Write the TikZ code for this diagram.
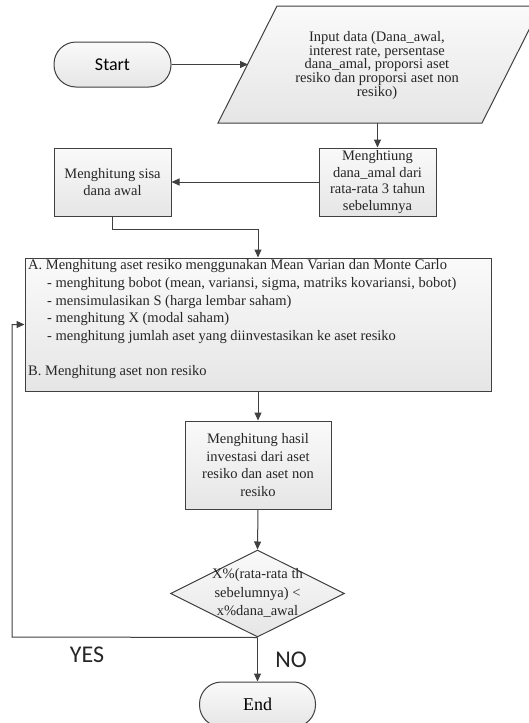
\documentclass[tikz,border=0pt]{standalone}
\usepackage{fontspec}
\setmainfont{Liberation Serif}
\newfontfamily\calib{Carlito}
\usetikzlibrary{arrows.meta,shapes.geometric}
\definecolor{ln}{HTML}{404040}
\begin{document}
\begin{tikzpicture}[x=1pt,y=-1pt,
  boxfill/.style={draw=ln, line width=1pt, top color=gray!4, bottom color=gray!20},
  procbox/.style={boxfill, rectangle, inner sep=0pt, align=center, font=\fontsize{14.5}{16.7}\selectfont},
  term/.style={boxfill, rectangle, rounded corners=22pt, inner sep=0pt, minimum width=117, minimum height=45},
  conn/.style={draw=ln, line width=1pt},
  arr/.style={conn, -{Triangle[length=8pt,width=7pt]}},
  lbl/.style={font=\calib\fontsize{24}{28}\selectfont, text=black!85, inner sep=0pt}
]
\useasboundingbox (0,0) rectangle (528,723);
\fill[white] (0,0) rectangle (528,723);

% Start
\node[term, font=\calib\fontsize{18}{20}\selectfont] (start) at (112.5,64.5) {Start};

% Input parallelogram
\path[boxfill] (218,123) -- (277,6) -- (541,6) -- (482,123) -- cycle;
\node[align=center, inner sep=0pt, font=\fontsize{14.5}{13.8}\selectfont, text=black!85] (inp) at (377,65.5)
  {Input data (Dana\_awal,\\interest rate, persentase\\dana\_amal, proporsi aset\\resiko dan proporsi aset non\\resiko)};
\coordinate (inpL) at (248,64.5);
\coordinate (inpB) at (377.5,123);

% Menghtiung box
\node[procbox, minimum width=117, minimum height=68, text=black!85] (mt) at (377.5,182)
  {Menghtiung\\dana\_amal dari\\rata-rata 3 tahun\\sebelumnya};

% Sisa box
\node[procbox, minimum width=117, minimum height=68, text=black!85] (sisa) at (112.5,182)
  {Menghitung sisa\\dana awal};

% Big box
\node[boxfill, rectangle, inner sep=0pt, minimum width=466, minimum height=133] (big) at (258,324.5) {};
\node[anchor=north west, align=left, inner sep=0pt, font=\fontsize{14.5}{17.7}\selectfont, text=black!85] (bigtxt) at (28,259.5)
  {A. Menghitung aset resiko menggunakan Mean Varian dan Monte Carlo\\
   \hspace*{19pt}- menghitung bobot (mean, variansi, sigma, matriks kovariansi, bobot)\\
   \hspace*{19pt}- mensimulasikan S (harga lembar saham)\\
   \hspace*{19pt}- menghitung X (modal saham)\\
   \hspace*{19pt}- menghitung jumlah aset yang diinvestasikan ke aset resiko\\[17.7pt]
   B. Menghitung aset non resiko};

% Result box
\node[procbox, minimum width=146, minimum height=88, text=black!85, font=\fontsize{14.5}{17.7}\selectfont] (res) at (258,465)
  {Menghitung hasil\\investasi dari aset\\resiko dan aset non\\resiko};

% Decision diamond
\node[boxfill, diamond, inner sep=0pt, minimum width=174, minimum height=87] (dia) at (257.5,593.5) {};
\node[align=center, inner sep=0pt, font=\fontsize{14.5}{18.3}\selectfont, text=black!85] (diatxt) at (257.5,593)
  {X\%(rata-rata th\\sebelumnya) <\\x\%dana\_awal};

% End
\node[term, minimum width=116, font=\fontsize{18}{20}\selectfont] (endn) at (257.5,704.5) {End};

% Labels
\node[lbl] (yes) at (87,655) {YES};
\node[lbl] (no) at (291,659.5) {NO};

% Connectors
\draw[arr] (start.east) -- (inpL);
\draw[arr] (inpB) -- (mt.north);
\draw[arr] (mt.west) -- (sisa.east);
\draw[arr] (sisa.south) -- ++(0,13) -| (big.north);
\draw[arr] (big.south) -- (res.north);
\draw[arr] (res.south) -- (dia.north);
\draw[arr] (dia.south) -- (endn.north);
\coordinate (lp) at (12,637);
\draw[arr] (dia.south) -- (lp) |- (big.west);
\end{tikzpicture}
\end{document}
